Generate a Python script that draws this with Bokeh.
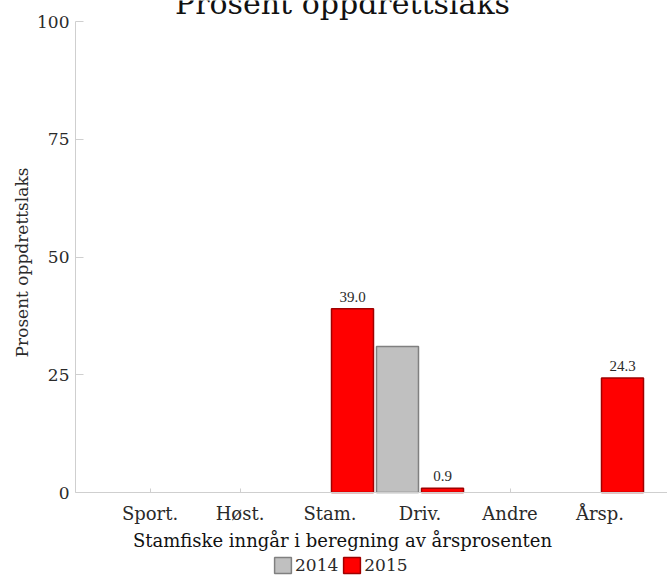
import math
from bokeh.plotting import figure
from bokeh.models import (Range1d, FixedTicker, ColumnDataSource, Label, LabelSet,
                          Legend, LegendItem)
from bokeh.embed import file_html
from bokeh.resources import INLINE

# ---- data ----
title_text = "Prosent oppdrettslaks"
x_title = "Stamfiske inngår i beregning av årsprosenten"
y_title = "Prosent oppdrettslaks"
categories = ["Sport.", "Høst.", "Stam.", "Driv.", "Andre", "Årsp."]
years = ["2014", "2015"]
values_2014 = [0, 0, 0, 31.0, 0, 0]
values_2015 = [0, 0, 39.0, 0.9, 0, 24.3]
y_ticks = [0, 25, 50, 75, 100]

FONT = "DejaVu Serif"
TXT = "#2a2a2a"
AX = "#cfcfcf"

W, H = 667, 577
# layout in canvas pixels
X0_PX, SLOT_PX = 127.0, 45.0        # centre of first bar slot, slot width
AXIS_X_PX = 75.0                    # y-axis position
Y0_PX, Y100_PX = 492.0, 21.0        # pixel rows of 0 and 100
ppy = (Y0_PX - Y100_PX) / 100.0

def dx(px):
    return (px - X0_PX) / SLOT_PX

def dy(py):
    return (Y0_PX - py) / ppy

def series_source(vals, j):
    xs, tops, labels = [], [], []
    for i, v in enumerate(vals):
        if v:
            xs.append(2 * i + j)
            tops.append(v)
            labels.append(f"{v:.1f}")
    return ColumnDataSource(dict(x=xs, top=tops, label=labels))

src14 = series_source(values_2014, 0)
src15 = series_source(values_2015, 1)

p = figure(width=W, height=H, output_backend="svg", toolbar_location=None,
           x_range=Range1d(dx(0), dx(W)), y_range=Range1d(dy(H), dy(0)),
           min_border_left=0, min_border_right=0, min_border_top=0,
           min_border_bottom=0)
p.outline_line_color = None
p.grid.visible = False
p.background_fill_color = "white"

r14 = p.vbar(x="x", top="top", bottom=0, width=0.933, source=src14,
             fill_color="#c0c0c0", line_color="#808080", line_width=1.5)
r15 = p.vbar(x="x", top="top", bottom=0, width=0.933, source=src15,
             fill_color="#ff0000", line_color="#a00000", line_width=1.5)

labels15 = LabelSet(x="x", y="top", text="label", source=src15, y_offset=7,
                    text_align="center", text_baseline="alphabetic",
                    text_font=FONT, text_font_size="15px", text_color=TXT)
p.add_layout(labels15)

# axes placed inside the frame
xa = p.xaxis[0]
group_centers = [2 * i + 0.5 for i in range(len(categories))]
xa.fixed_location = 0
xa.bounds = (dx(AXIS_X_PX), dx(W))
xa.ticker = FixedTicker(ticks=group_centers)
xa.major_label_overrides = {c: lab for c, lab in zip(group_centers, categories)}
xa.major_tick_in = 4
xa.major_tick_out = 0
xa.minor_tick_line_color = None
xa.axis_line_color = AX
xa.major_tick_line_color = AX
xa.major_label_standoff = 10
xa.major_label_text_font = FONT
xa.major_label_text_font_size = "18px"
xa.major_label_text_color = TXT

ya = p.yaxis[0]
ya.fixed_location = dx(AXIS_X_PX)
ya.bounds = (0, 100)
ya.ticker = FixedTicker(ticks=y_ticks)
ya.major_tick_in = 8
ya.major_tick_out = 0
ya.minor_tick_line_color = None
ya.axis_line_color = AX
ya.major_tick_line_color = AX
ya.major_label_standoff = 6
ya.major_label_text_font = FONT
ya.major_label_text_font_size = "17px"
ya.major_label_text_color = TXT

# y-axis title
p.add_layout(Label(x=dx(21), y=dy(262), text=y_title, angle=math.pi / 2,
                   text_align="center", text_baseline="middle", text_font=FONT,
                   text_font_size="17px", text_color=TXT))

# title (cut off at the top, as in the reference)
p.add_layout(Label(x=dx(342), y=dy(3), text=title_text, text_align="center",
                   text_baseline="alphabetic", text_font=FONT,
                   text_font_size="30px", text_color="#111111"))

# x-axis title
p.add_layout(Label(x=dx(342), y=dy(540), text=x_title, text_align="center",
                   text_baseline="alphabetic", text_font=FONT,
                   text_font_size="18px", text_color="#111111"))

legend = Legend(items=[LegendItem(label=years[0], renderers=[r14]),
                       LegendItem(label=years[1], renderers=[r15])],
                orientation="horizontal", location=(272, 2),
                background_fill_alpha=0, border_line_color=None,
                padding=0, margin=0, spacing=3, glyph_width=21, glyph_height=20,
                label_standoff=2, label_height=20, label_text_font=FONT,
                label_text_font_size="17px", label_text_color=TXT)
p.add_layout(legend)

open("out.html", "w").write(file_html(p, INLINE))
